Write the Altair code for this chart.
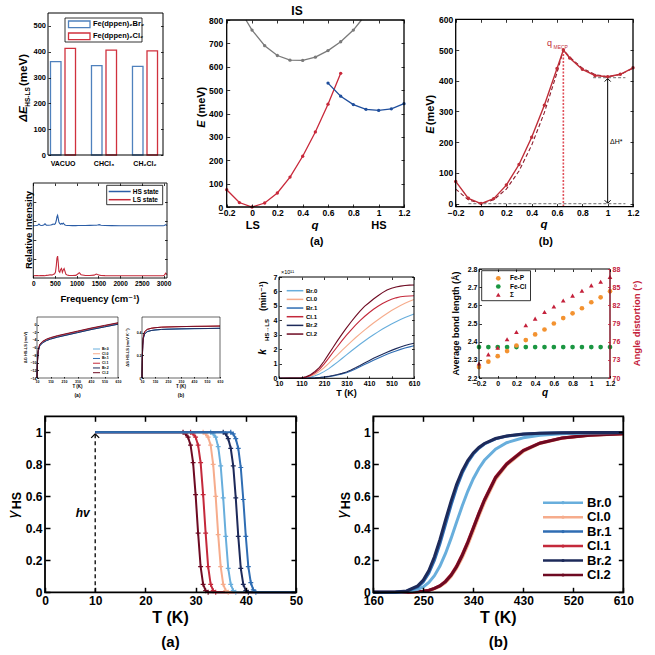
import altair as alt
import pandas as pd

W, H = 655, 655
FONT = "Liberation Sans, DejaVu Sans"

# ---------------- values ----------------
solvents = ["VACUO", "CHCl₃", "CH₂Cl₂"]
compounds = ["Fe(dppen)₂Br₂", "Fe(dppen)₂Cl₂"]
dE_Br = [362, 346, 343]
dE_Cl = [413, 406, 403]
bar_ticks = [0, 100, 200, 300, 400, 500]

q_ticks = [-0.2, 0, 0.2, 0.4, 0.6, 0.8, 1.0, 1.2]
ls_q = [-0.2, -0.1, 0.0, 0.1, 0.2, 0.3, 0.4, 0.5, 0.6, 0.7]
ls_E = [74, 19, 0, 17, 60, 128, 217, 321, 440, 572]
hs_q = [0.6, 0.7, 0.8, 0.9, 1.0, 1.1, 1.2]
hs_E = [530, 474, 438, 418, 413, 420, 442]
is_q = [-0.048, 0.0, 0.1, 0.2, 0.3, 0.4, 0.5, 0.6, 0.7, 0.8, 0.864]
is_E = [800, 757, 690, 648, 628, 627, 641, 669, 707, 757, 800]
is_ticks = [0, 100, 200, 300, 400, 500, 600, 700, 800]

mecp_q = [-0.2, -0.1, 0.0, 0.1, 0.2, 0.3, 0.4, 0.5, 0.6, 0.65, 0.7, 0.8, 0.9, 1.0, 1.1, 1.2]
mecp_E = [72, 17, 0, 16, 60, 127, 216, 320, 440, 500, 474, 437, 417, 413, 421, 442]
fit_q = [-0.2, -0.1, 0.0, 0.1, 0.2, 0.3, 0.4, 0.5, 0.6, 0.65, 0.7, 0.8, 0.9, 1.0, 1.1, 1.2]
fit_E = [47, 12, 0, 12, 47, 106, 190, 296, 426, 500, 477, 441, 420, 413, 420, 441]
mecp_ticks = [0, 100, 200, 300, 400, 500, 600]
q_mecp, E_mecp, dH_level = 0.65, 500, 410

spec_f = [0, 60, 100, 130, 160, 200, 240, 270, 300, 350, 400, 430, 460, 490, 510,
          530, 545, 560, 575, 590, 610, 630, 650, 670, 690, 710, 730, 750, 780, 820,
          900, 980, 1030, 1060, 1100, 1200, 1300, 1400, 1450, 1480, 1520, 1560, 1650,
          1800, 2000, 2500, 2900, 2990, 3020, 3050, 3080]
spec_HS = [0.55, 0.552, 0.555, 0.568, 0.556, 0.553, 0.558, 0.57, 0.556, 0.555,
           0.558, 0.562, 0.568, 0.564, 0.575, 0.605, 0.645, 0.66, 0.625, 0.59,
           0.572, 0.566, 0.574, 0.568, 0.578, 0.566, 0.558, 0.555, 0.553, 0.552,
           0.551, 0.551, 0.552, 0.553, 0.552, 0.553, 0.554, 0.555, 0.556, 0.558,
           0.562, 0.556, 0.553, 0.551, 0.55, 0.55, 0.55, 0.55, 0.553, 0.562, 0.553]
spec_LS = [0.024, 0.025, 0.026, 0.024, 0.027, 0.025, 0.026, 0.024, 0.028, 0.03,
           0.034, 0.03, 0.038, 0.045, 0.06, 0.13, 0.21, 0.23, 0.16, 0.07,
           0.06, 0.09, 0.1, 0.06, 0.085, 0.1, 0.07, 0.04, 0.032, 0.028,
           0.026, 0.028, 0.045, 0.056, 0.035, 0.027, 0.026, 0.03, 0.042, 0.036,
           0.03, 0.027, 0.025, 0.024, 0.024, 0.024, 0.024, 0.024, 0.03, 0.05, 0.035]
spec_ticks = [0, 500, 1000, 1500, 2000, 2500, 3000]
spec_names = ["HS state", "LS state"]

series = ["Br.0", "Cl.0", "Br.1", "Cl.1", "Br.2", "Cl.2"]
series_colors = ["#68aedc", "#f6ac8c", "#2f6db3", "#c4293b", "#1d2a5a", "#6e0a22"]

T_ticks = [10, 110, 210, 310, 410, 510, 610]
small_T = [10, 13, 16, 20, 30, 50, 80, 110, 160, 210, 310, 410, 510, 610]
dG = {
    "Br.0": [-14.0, -10.2, -8.2, -6.8, -5.5, -4.7, -4.1, -3.7, -3.2, -2.8, -2.0, -1.2, -0.5, 0.2],
    "Cl.0": [-14.0, -10.0, -8.0, -6.6, -5.3, -4.5, -3.9, -3.5, -3.0, -2.6, -1.8, -1.0, -0.3, 0.4],
    "Br.1": [-14.0, -10.3, -8.3, -6.9, -5.6, -4.8, -4.2, -3.8, -3.3, -2.9, -2.1, -1.3, -0.6, 0.1],
    "Cl.1": [-14.0, -10.0, -8.0, -6.6, -5.3, -4.5, -3.9, -3.5, -3.0, -2.6, -1.8, -1.0, -0.3, 0.4],
    "Br.2": [-14.0, -10.3, -8.3, -6.9, -5.6, -4.8, -4.2, -3.8, -3.3, -2.9, -2.1, -1.3, -0.6, 0.1],
    "Cl.2": [-14.0, -9.9, -7.9, -6.5, -5.2, -4.4, -3.8, -3.4, -2.9, -2.5, -1.7, -0.9, -0.2, 0.5],
}
dS = {
    "Br.0": [0.0, 0.19, 0.29, 0.35, 0.39, 0.41, 0.42, 0.425, 0.43, 0.432, 0.435, 0.437, 0.438, 0.44],
    "Cl.0": [0.0, 0.2, 0.3, 0.36, 0.41, 0.43, 0.44, 0.445, 0.45, 0.452, 0.455, 0.457, 0.458, 0.46],
    "Br.1": [0.0, 0.19, 0.29, 0.35, 0.39, 0.41, 0.42, 0.425, 0.43, 0.432, 0.435, 0.437, 0.438, 0.44],
    "Cl.1": [0.0, 0.2, 0.3, 0.36, 0.41, 0.43, 0.44, 0.445, 0.45, 0.452, 0.455, 0.457, 0.458, 0.46],
    "Br.2": [0.0, 0.19, 0.29, 0.35, 0.39, 0.41, 0.42, 0.425, 0.43, 0.432, 0.435, 0.437, 0.438, 0.44],
    "Cl.2": [0.0, 0.2, 0.3, 0.36, 0.41, 0.43, 0.44, 0.445, 0.45, 0.452, 0.455, 0.457, 0.458, 0.46],
}
dG_ticks = [-14, -12, -10, -8, -6, -4, -2, 0]
dS_ticks = [0, 0.2, 0.4]

rate_T = [10, 110, 130, 150, 170, 190, 210, 230, 250, 270, 290, 310, 330, 350,
          370, 390, 410, 430, 450, 470, 490, 510, 530, 550, 570, 590, 610]
rate = {
    "Br.0": [0, 0.005, 0.03, 0.08, 0.17, 0.3, 0.46, 0.65, 0.88, 1.12, 1.37, 1.62, 1.87, 2.11,
             2.35, 2.58, 2.8, 3.01, 3.21, 3.4, 3.58, 3.75, 3.91, 4.06, 4.2, 4.33, 4.45],
    "Cl.0": [0, 0.01, 0.05, 0.14, 0.28, 0.48, 0.73, 1.02, 1.32, 1.62, 1.93, 2.23, 2.52, 2.8,
             3.07, 3.33, 3.58, 3.82, 4.05, 4.27, 4.48, 4.68, 4.86, 5.03, 5.18, 5.32, 5.45],
    "Br.1": [0, 0, 0.004, 0.012, 0.025, 0.05, 0.08, 0.115, 0.17, 0.23, 0.3, 0.39, 0.51, 0.65,
             0.8, 0.95, 1.1, 1.25, 1.39, 1.53, 1.66, 1.78, 1.89, 2.0, 2.09, 2.17, 2.25],
    "Cl.1": [0, 0.02, 0.08, 0.2, 0.38, 0.62, 0.98, 1.38, 1.8, 2.2, 2.6, 2.98, 3.33, 3.67,
             3.98, 4.27, 4.53, 4.77, 4.98, 5.17, 5.33, 5.46, 5.56, 5.63, 5.67, 5.69, 5.7],
    "Br.2": [0, 0, 0.005, 0.015, 0.03, 0.06, 0.09, 0.13, 0.19, 0.26, 0.34, 0.44, 0.58, 0.73,
             0.89, 1.06, 1.22, 1.38, 1.53, 1.67, 1.8, 1.93, 2.05, 2.16, 2.26, 2.35, 2.42],
    "Cl.2": [0, 0.03, 0.1, 0.25, 0.47, 0.75, 1.18, 1.65, 2.13, 2.6, 3.05, 3.48, 3.89, 4.28,
             4.64, 4.97, 5.22, 5.48, 5.7, 5.92, 6.1, 6.22, 6.31, 6.37, 6.41, 6.44, 6.45],
}
rate_ticks = [0, 1, 2, 3, 4, 5, 6, 7]

bond_q = [-0.2, -0.1, 0.0, 0.1, 0.2, 0.3, 0.4, 0.5, 0.6, 0.7, 0.8, 0.9, 1.0, 1.1, 1.2]
bond_FeP = [2.26, 2.29, 2.32, 2.348, 2.379, 2.409, 2.44, 2.467, 2.50, 2.53, 2.556, 2.584, 2.617, 2.644, 2.677]
bond_FeCl = [2.37, 2.37, 2.37, 2.37, 2.37, 2.37, 2.37, 2.37, 2.37, 2.37, 2.37, 2.37, 2.37, 2.37, 2.37]
angle_Sigma = [72.4, 73.9, 75.0, 76.4, 77.6, 78.7, 79.8, 80.9, 81.8, 82.8, 83.6, 84.4, 85.3, 85.9, 86.7]
bond_names = ["Fe-P", "Fe-Cl", "Σ"]
bond_ticks = [2.2, 2.3, 2.4, 2.5, 2.6, 2.7, 2.8]
angle_ticks = [70, 73, 76, 79, 82, 85, 88]

gA_T = {
    "Br.0": [10, 33.0, 33.5, 34.0, 34.5, 35.0, 35.5, 36.0, 36.5, 37.0, 37.5, 38.0, 50],
    "Cl.0": [10, 31.5, 32.0, 32.5, 33.0, 33.5, 34.0, 34.5, 35.0, 35.5, 36.0, 36.5, 50],
    "Br.1": [10, 37.0, 37.5, 38.0, 38.5, 39.0, 39.5, 40.0, 40.5, 41.0, 41.5, 42.0, 50],
    "Cl.1": [10, 29.0, 29.5, 30.0, 30.5, 31.0, 31.5, 32.0, 32.5, 33.0, 33.5, 34.0, 50],
    "Br.2": [10, 35.5, 36.0, 36.5, 37.0, 37.5, 38.0, 38.5, 39.0, 39.5, 40.0, 40.5, 50],
    "Cl.2": [10, 27.5, 28.0, 28.5, 29.0, 29.5, 30.0, 30.5, 31.0, 31.5, 32.0, 32.5, 50],
}
gA = {
    "Br.0": [1, 1.0, 0.99, 0.97, 0.91, 0.79, 0.59, 0.35, 0.15, 0.05, 0.01, 0.0, 0],
    "Cl.0": [1, 1.0, 0.99, 0.97, 0.92, 0.80, 0.60, 0.36, 0.16, 0.05, 0.01, 0.0, 0],
    "Br.1": [1, 1.0, 0.99, 0.96, 0.90, 0.78, 0.58, 0.35, 0.16, 0.06, 0.015, 0.0, 0],
    "Cl.1": [1, 1.0, 0.99, 0.97, 0.92, 0.81, 0.61, 0.37, 0.16, 0.05, 0.01, 0.0, 0],
    "Br.2": [1, 1.0, 0.99, 0.96, 0.90, 0.79, 0.59, 0.35, 0.15, 0.05, 0.01, 0.0, 0],
    "Cl.2": [1, 1.0, 0.99, 0.97, 0.92, 0.81, 0.61, 0.37, 0.16, 0.05, 0.01, 0.0, 0],
}
gB_T = [160, 180, 200, 220, 240, 250, 260, 270, 280, 290, 300, 310, 320, 330, 340, 350,
        360, 380, 400, 430, 460, 500, 550, 610]
gB = {
    "Br.0": [0, 0.0001, 0.0007, 0.004, 0.018, 0.034, 0.062, 0.104, 0.164, 0.243, 0.337, 0.439,
             0.539, 0.631, 0.710, 0.774, 0.825, 0.894, 0.935, 0.966, 0.981, 0.991, 0.995, 0.998],
    "Cl.0": [0, 0, 0.0001, 0.0005, 0.0027, 0.006, 0.011, 0.021, 0.036, 0.061, 0.098, 0.15,
             0.215, 0.295, 0.383, 0.475, 0.56, 0.705, 0.795, 0.88, 0.93, 0.962, 0.981, 0.99],
    "Br.1": [0, 0.0001, 0.001, 0.007, 0.034, 0.066, 0.12, 0.20, 0.305, 0.425, 0.545, 0.655,
             0.745, 0.813, 0.864, 0.90, 0.927, 0.959, 0.976, 0.988, 0.994, 0.997, 0.9985, 0.999],
    "Cl.1": [0, 0, 0.0001, 0.0007, 0.0033, 0.0072, 0.013, 0.025, 0.042, 0.07, 0.11, 0.165,
             0.235, 0.316, 0.405, 0.495, 0.58, 0.72, 0.805, 0.888, 0.934, 0.965, 0.983, 0.991],
    "Br.2": [0, 0.0001, 0.0013, 0.0086, 0.040, 0.077, 0.136, 0.222, 0.330, 0.452, 0.570, 0.675,
             0.759, 0.824, 0.871, 0.905, 0.930, 0.961, 0.977, 0.989, 0.994, 0.997, 0.999, 0.999],
    "Cl.2": [0, 0, 0.0001, 0.0006, 0.003, 0.007, 0.012, 0.024, 0.04, 0.067, 0.106, 0.16,
             0.23, 0.31, 0.40, 0.49, 0.575, 0.715, 0.80, 0.885, 0.932, 0.964, 0.982, 0.991],
}
gA_xticks = [0, 10, 20, 30, 40, 50]
gB_xticks = [160, 250, 340, 430, 520, 610]
g_yticks = [0, 0.2, 0.4, 0.6, 0.8, 1]

# ---------------- colours ----------------
C_BAR = ["#4f81bd", "#d0313d"]
C_IS_GRAY, C_IS_RED, C_IS_BLUE = "#7a7a7a", "#c8283a", "#1f4e9c"
C_MECP, C_FIT, C_MECP_V = "#bf2d38", "#8b1a2b", "#e0505a"
C_SPEC = ["#2b5da6", "#c42a3a"]
C_ORANGE, C_GREEN, C_BRED = "#f39230", "#1a9641", "#c4203a"
COL = dict(zip(series, series_colors))

layers = []


def one():
    return pd.DataFrame({"k": [0]})


def S(dom, rng):
    return alt.Scale(domain=list(dom), range=list(rng), nice=False, zero=False)


def AX(orient, pos, tick=3.0, size=7.0, pad=2.0, values=None, fmt=".6~g",
       labels=True, color="black", tw=0.8):
    if orient == "bottom":
        off = pos - tick - H
    elif orient == "right":
        off = pos - tick - W
    else:
        off = -(pos + tick)
    kw = dict(orient=orient, offset=off, tickSize=tick, tickWidth=tw, tickColor=color,
              ticks=tick > 0, domain=False, grid=False, title=None, labels=labels,
              labelFont=FONT, labelFontSize=size, labelFontWeight="bold", labelAngle=0,
              labelColor=color, labelPadding=pad, labelFlush=False, labelOverlap=False,
              zindex=1)
    if values is not None:
        kw["values"] = values
    if fmt:
        kw["format"] = fmt
    return alt.Axis(**kw)


def box(P, xaxis=None, yaxis=None, sw=1.0, show=True, yd=None, yr=None):
    yd = yd or P["yd"]
    yr = yr or P["yr"]
    df = pd.DataFrame({"x0": [P["xd"][0]], "x1": [P["xd"][1]], "y0": [yd[0]], "y1": [yd[1]]})
    layers.append(
        alt.Chart(df).mark_rect(fillOpacity=0, stroke="black", strokeWidth=sw,
                                strokeOpacity=1 if show else 0)
        .encode(x=alt.X("x0:Q", scale=S(P["xd"], P["xr"]), axis=xaxis), x2="x1",
                y=alt.Y("y0:Q", scale=S(yd, yr), axis=yaxis), y2="y1"))


def XY(P, yd=None, yr=None):
    return dict(x=alt.X("x:Q", scale=S(P["xd"], P["xr"]), axis=None),
                y=alt.Y("y:Q", scale=S(yd or P["yd"], yr or P["yr"]), axis=None))


def line(P, xs, ys, color, sw=1.2, dash=None, yd=None, yr=None):
    df = pd.DataFrame({"x": xs, "y": ys})
    kw = dict(color=color, strokeWidth=sw)
    if dash:
        kw["strokeDash"] = dash
    layers.append(alt.Chart(df).mark_line(**kw).encode(**XY(P, yd, yr)))


def points(P, xs, ys, color, shape="circle", size=12, filled=True, sw=1.0, yd=None, yr=None):
    df = pd.DataFrame({"x": xs, "y": ys})
    layers.append(alt.Chart(df).mark_point(shape=shape, size=size, filled=filled, color=color,
                                           strokeWidth=sw, opacity=1).encode(**XY(P, yd, yr)))


def drule(P, x1, y1, x2, y2, color, sw=1.0, dash=None):
    df = pd.DataFrame({"x": [x1], "xb": [x2], "y": [y1], "yb": [y2]})
    e = XY(P)
    e["x2"] = "xb"
    e["y2"] = "yb"
    kw = dict(color=color, strokeWidth=sw)
    if dash:
        kw["strokeDash"] = dash
    layers.append(alt.Chart(df).mark_rule(**kw).encode(**e))


def text(x, y, s, size=10, color="black", weight="bold", style="normal", angle=0,
         align="center", baseline="middle"):
    layers.append(alt.Chart(one()).mark_text(
        text=s, font=FONT, fontSize=size, fontWeight=weight, fontStyle=style, color=color,
        angle=angle, align=align, baseline=baseline).encode(x=alt.value(x), y=alt.value(y)))


def prule(x1, y1, x2, y2, color="black", sw=1.0, dash=None):
    kw = dict(color=color, strokeWidth=sw)
    if dash:
        kw["strokeDash"] = dash
    layers.append(alt.Chart(one()).mark_rule(**kw).encode(
        x=alt.value(x1), y=alt.value(y1), x2=alt.value(x2), y2=alt.value(y2)))


def prect(x1, y1, x2, y2, stroke="black", sw=0.8, fill="white", fo=1.0):
    layers.append(alt.Chart(one()).mark_rect(fill=fill, fillOpacity=fo, stroke=stroke,
                                             strokeWidth=sw).encode(
        x=alt.value(x1), y=alt.value(y1), x2=alt.value(x2), y2=alt.value(y2)))


def psym(x, y, shape, color, size=20, filled=True, sw=1.0):
    layers.append(alt.Chart(one()).mark_point(shape=shape, size=size, filled=filled,
                                              color=color, strokeWidth=sw, opacity=1)
                  .encode(x=alt.value(x), y=alt.value(y)))


# ================= bar chart =================
P_bar = dict(xd=[0, 1], xr=[48, 163], yd=[0, 550], yr=[155, 13])
bar_df = pd.DataFrame({
    "solvent": solvents + solvents,
    "compound": [compounds[0]] * 3 + [compounds[1]] * 3,
    "dE": dE_Br + dE_Cl,
    "base": [0] * 6,
})
layers.append(alt.Chart(bar_df).mark_bar(fillOpacity=0, strokeWidth=1.3).encode(
    x=alt.X("solvent:N", sort=solvents,
            scale=alt.Scale(domain=solvents, range=[42.5, 165.5], paddingInner=0, paddingOuter=0),
            axis=AX("bottom", 155, tick=0, size=7, pad=4, fmt=None)),
    xOffset=alt.XOffset("compound:N", sort=compounds,
                        scale=alt.Scale(domain=compounds, paddingInner=0.276, paddingOuter=0.55)),
    y=alt.Y("dE:Q", scale=S([0, 550], [155, 13]), axis=None),
    y2="base",
    stroke=alt.Stroke("compound:N", scale=alt.Scale(domain=compounds, range=C_BAR), legend=None),
))
box(P_bar, yaxis=AX("left", 48, tick=2.5, size=7.5, pad=2.5, values=bar_ticks), sw=1.0)
box(P_bar, yaxis=AX("right", 163, tick=2.5, labels=False, values=bar_ticks), show=False)
prect(65, 18, 142, 42, "black", 0.8, "white")
for i, (c, col) in enumerate(zip(compounds, C_BAR)):
    yy = 24.3 + 12 * i
    prect(68.5, yy - 3.3, 90, yy + 3.3, col, 1.3, "white", 0)
    text(93, yy, c, 7.5, align="left")
text(24, 114, "ΔE", 11.5, style="italic", angle=270)
text(27.5, 97, "HS-LS", 6.5, angle=270)
text(24, 70, "(meV)", 11.5, angle=270)

# ================= (a) IS diagram =================
P_is = dict(xd=[-0.2, 1.2], xr=[226.7, 404], yd=[0, 800], yr=[207, 20])
line(P_is, is_q, is_E, C_IS_GRAY, 1.3)
points(P_is, is_q[1:-1], is_E[1:-1], C_IS_GRAY, size=11)
line(P_is, ls_q, ls_E, C_IS_RED, 1.3)
points(P_is, ls_q, ls_E, C_IS_RED, size=11)
line(P_is, hs_q, hs_E, C_IS_BLUE, 1.3)
points(P_is, hs_q, hs_E, C_IS_BLUE, size=11)
box(P_is, xaxis=AX("bottom", 207, tick=3, size=8.5, pad=1.5, values=q_ticks),
    yaxis=AX("left", 226.7, tick=3, size=8.5, pad=4, values=is_ticks), sw=1.3)
box(P_is, xaxis=AX("top", 20, tick=3, labels=False, values=q_ticks),
    yaxis=AX("right", 404, tick=3, labels=False, values=is_ticks), show=False)
text(297, 11, "IS", 12)
text(202, 124, "E", 11, style="italic", angle=270)
text(202, 102, "(meV)", 11, angle=270)
text(252.7, 226, "LS", 11)
text(315, 226, "q", 11.5, style="italic")
text(379, 226, "HS", 11)
text(316.7, 242, "(a)", 11)

# ================= (b) MECP =================
P_m = dict(xd=[-0.2, 1.2], xr=[455.7, 633], yd=[-10, 600], yr=[206.6, 19.3])
drule(P_m, -0.1, 0, 1.14, 0, "#8a8a8a", 1.2, [3, 2])
drule(P_m, 0.885, dH_level, 1.14, dH_level, "#8a8a8a", 1.2, [3, 2])
drule(P_m, q_mecp, -10, q_mecp, E_mecp, C_MECP_V, 1.6, [2, 1.5])
line(P_m, fit_q, fit_E, C_FIT, 1.1, [4, 2.5])
line(P_m, mecp_q, mecp_E, C_MECP, 1.4)
points(P_m, mecp_q, mecp_E, C_MECP, size=12)
drule(P_m, 1.0, 2, 1.0, dH_level - 4, "black", 1.0)
layers.append(alt.Chart(pd.DataFrame({"x": [1.0], "y": [dH_level - 3]})).mark_point(
    shape="M-1,1L0,0L1,1", size=36, filled=False, color="black", strokeWidth=1, opacity=1
).encode(**XY(P_m)))
layers.append(alt.Chart(pd.DataFrame({"x": [1.0], "y": [1]})).mark_point(
    shape="M-1,-1L0,0L1,-1", size=36, filled=False, color="black", strokeWidth=1, opacity=1
).encode(**XY(P_m)))
box(P_m, xaxis=AX("bottom", 206.6, tick=3, size=8.5, pad=1.5, values=q_ticks),
    yaxis=AX("left", 455.7, tick=3, size=8.5, pad=3, values=mecp_ticks), sw=1.3)
box(P_m, xaxis=AX("top", 19.3, tick=3, labels=False, values=q_ticks),
    yaxis=AX("right", 633, tick=3, labels=False, values=mecp_ticks), show=False)
text(431, 130, "E", 11, style="italic", angle=270)
text(431, 110, "(meV)", 11, angle=270)
text(544, 225, "q", 11.5, style="italic")
text(545.8, 242, "(b)", 11)
text(549.5, 43, "q", 9, color=C_MECP, weight="normal")
text(553.5, 46.5, "MECP", 5, color=C_MECP, weight="normal", align="left")
text(610, 142, "ΔH*", 7, weight="normal", align="left")

# ================= spectrum =================
P_sp = dict(xd=[0, 3080], xr=[33.3, 167], yd=[0, 1], yr=[278, 183])
line(P_sp, spec_f, spec_HS, C_SPEC[0], 1.1)
line(P_sp, spec_f, spec_LS, C_SPEC[1], 1.1)
box(P_sp, xaxis=AX("bottom", 278, tick=2.5, size=6.5, pad=2, values=spec_ticks),
    yaxis=AX("left", 33.3, tick=2.5, labels=False, values=[0.2, 0.4, 0.6, 0.8]), sw=0.9)
box(P_sp, xaxis=AX("top", 183, tick=2.5, labels=False, values=spec_ticks),
    yaxis=AX("right", 167, tick=2.5, labels=False, values=[0.2, 0.4, 0.6, 0.8]), show=False)
prect(106.7, 185.3, 162.7, 204.7, "black", 0.8, "white")
for i, (nm, col) in enumerate(zip(spec_names, C_SPEC)):
    yy = 191.5 + 8.2 * i
    prule(108.7, yy, 130.7, yy, col, 1.5)
    text(132.7, yy, nm, 6.5, align="left")
text(29, 230, "Relative Intensity", 9.5, angle=270)
text(100, 298.5, "Frequency (cm⁻¹)", 9.5)

# ================= small (a), (b) =================
P_sa = dict(xd=[10, 610], xr=[37, 118], yd=[-14, 2], yr=[378, 317])
P_sb = dict(xd=[10, 610], xr=[142, 220], yd=[0, 0.54], yr=[378, 317])
for s in series:
    line(P_sa, small_T, dG[s], COL[s], 0.9)
    line(P_sb, small_T, dS[s], COL[s], 0.9)
box(P_sa, xaxis=AX("bottom", 378, tick=1.5, size=3.5, pad=1, values=T_ticks),
    yaxis=AX("left", 37, tick=1.5, size=3.5, pad=1, values=dG_ticks), sw=0.6)
box(P_sb, xaxis=AX("bottom", 378, tick=1.5, size=3.5, pad=1, values=T_ticks),
    yaxis=AX("left", 142, tick=1.5, size=3.5, pad=1, values=dS_ticks), sw=0.6)
for i, s in enumerate(series):
    yy = 349 + 4.74 * i
    prule(93, yy, 100, yy, COL[s], 1.0)
    text(102, yy, s, 3.5, align="left")
text(77.5, 386.5, "T (K)", 4.5)
text(77.5, 394.5, "(a)", 5)
text(181, 386.5, "T (K)", 4.5)
text(181, 394.5, "(b)", 5)
text(26, 347.5, "ΔG HS-LS (meV)", 4, angle=270)
text(128, 347.5, "ΔS HS-LS (meV K⁻¹)", 4, angle=270)

# ================= rate constants =================
P_r = dict(xd=[10, 610], xr=[279, 414], yd=[0, 7], yr=[378.3, 277])
for s in series:
    line(P_r, rate_T, rate[s], COL[s], 1.1)
box(P_r, xaxis=AX("bottom", 378.3, tick=2.5, size=7, pad=1.5, values=T_ticks),
    yaxis=AX("left", 279, tick=2.5, size=7, pad=2, values=rate_ticks), sw=1.0)
box(P_r, xaxis=AX("top", 277, tick=2.5, labels=False, values=T_ticks),
    yaxis=AX("right", 414, tick=2.5, labels=False, values=rate_ticks), show=False)
for i, s in enumerate(series):
    yy = 290.7 + 8.67 * i
    prule(286.7, yy, 303.3, yy, COL[s], 1.5)
    text(306, yy, s, 6, align="left")
text(281, 272, "×10¹¹", 5.5, weight="normal", align="left")
text(263, 352, "k", 10, style="italic", angle=270)
text(267, 330, "HS→LS", 6, angle=270)
text(263, 296, "(min⁻¹)", 9, angle=270)
text(346.5, 393, "T (K)", 9)

# ================= bond lengths / angle distortion =================
P_b = dict(xd=[-0.2, 1.2], xr=[479, 610], yd=[2.2, 2.8], yr=[378, 269])
ANG_D, ANG_R = [70, 88], [378, 269]
points(P_b, bond_q, bond_FeCl, C_GREEN, size=22)
points(P_b, bond_q, bond_FeP, C_ORANGE, size=22)
points(P_b, bond_q, angle_Sigma, C_BRED, shape="triangle-up", size=22, yd=ANG_D, yr=ANG_R)
box(P_b, xaxis=AX("bottom", 378, tick=2.5, size=7, pad=1.5, values=q_ticks),
    yaxis=AX("left", 479, tick=2.5, size=7, pad=2, values=bond_ticks), sw=1.0)
box(P_b, xaxis=AX("top", 269, tick=2.5, labels=False, values=q_ticks),
    yaxis=AX("right", 610, tick=2.5, size=7, pad=2, values=angle_ticks, color=C_BRED),
    show=False, yd=ANG_D, yr=ANG_R)
prule(610, 269, 610, 378, C_BRED, 1.0)
prect(481.7, 270.7, 530.5, 300.7, "black", 0.8, "white")
for i, (nm, col, shp) in enumerate(zip(bond_names, [C_ORANGE, C_GREEN, C_BRED],
                                        ["circle", "circle", "triangle-up"])):
    yy = 278.3 + 8.2 * i
    psym(498.3, yy, shp, col, 22)
    text(510, yy, nm, 6.5, align="left")
text(456, 323.5, "Average bond length (Å)", 9, angle=270)
text(637, 323.5, "Angle distortion (°)", 9.5, color=C_BRED, angle=270)
text(545, 393, "q", 10, style="italic")

# ================= gamma_HS (a) =================
P_ga = dict(xd=[0, 50], xr=[45, 296], yd=[0, 1.1], yr=[592.3, 416.3])
drule(P_ga, 10, 0, 10, 0.985, "black", 1.3, [4, 3])
layers.append(alt.Chart(pd.DataFrame({"x": [10], "y": [0.99]})).mark_point(
    shape="M-1,1L0,0L1,1", size=64, filled=False, color="black", strokeWidth=1.3, opacity=1
).encode(**XY(P_ga)))
for s in ["Cl.2", "Cl.1", "Cl.0", "Br.0", "Br.2", "Br.1"]:
    line(P_ga, gA_T[s], gA[s], COL[s], 2.0)
    points(P_ga, gA_T[s][1:-1], gA[s][1:-1], COL[s], shape="M-1,0H1M0,-1V1", size=24,
           filled=False, sw=1.2)
box(P_ga, xaxis=AX("bottom", 592.3, tick=5, size=12, pad=2.7, values=gA_xticks, tw=1.5),
    yaxis=AX("left", 45, tick=5, size=12, pad=3, values=g_yticks, tw=1.5), sw=1.8)
box(P_ga, xaxis=AX("top", 416.3, tick=5, labels=False, values=gA_xticks, tw=1.5),
    yaxis=AX("right", 296, tick=5, labels=False, values=g_yticks, tw=1.5), show=False)
text(13, 514.5, "γ", 15, weight="normal", style="italic", angle=270)
text(17, 500.5, "HS", 12.5, angle=270)
text(170.5, 618, "T (K)", 16)
text(170.5, 642, "(a)", 15)
text(82.7, 513.3, "hv", 12, style="italic")

# ================= gamma_HS (b) =================
P_gb = dict(xd=[160, 610], xr=[373.3, 623.3], yd=[0, 1.1], yr=[592.3, 416.3])
for s in ["Cl.0", "Cl.1", "Cl.2", "Br.0", "Br.1", "Br.2"]:
    line(P_gb, gB_T, gB[s], COL[s], 3.0)
box(P_gb, xaxis=AX("bottom", 592.3, tick=5, size=12, pad=2.7, values=gB_xticks, tw=1.5),
    yaxis=AX("left", 373.3, tick=5, size=12, pad=3, values=g_yticks, tw=1.5), sw=1.8)
box(P_gb, xaxis=AX("top", 416.3, tick=5, labels=False, values=gB_xticks, tw=1.5),
    yaxis=AX("right", 623.3, tick=5, labels=False, values=g_yticks, tw=1.5), show=False)
for i, s in enumerate(series):
    yy = 502.7 + 14.46 * i
    prule(543, yy, 583, yy, COL[s], 2.5)
    psym(563, yy, "circle", COL[s], 10)
    text(587, yy, s, 13, align="left")
text(341.7, 514.5, "γ", 15, weight="normal", style="italic", angle=270)
text(346.2, 500.5, "HS", 12.5, angle=270)
text(498.3, 618, "T (K)", 16)
text(498.3, 642, "(b)", 15)

chart = (
    alt.layer(*layers)
    .resolve_scale(x="independent", y="independent")
    .resolve_axis(x="independent", y="independent")
    .properties(width=W, height=H, padding=0, background="white",
                autosize=alt.AutoSizeParams(type="none", contains="padding"))
    .configure_view(stroke=None)
)

chart.save("out.html", embed_options={"renderer": "svg", "actions": False})
